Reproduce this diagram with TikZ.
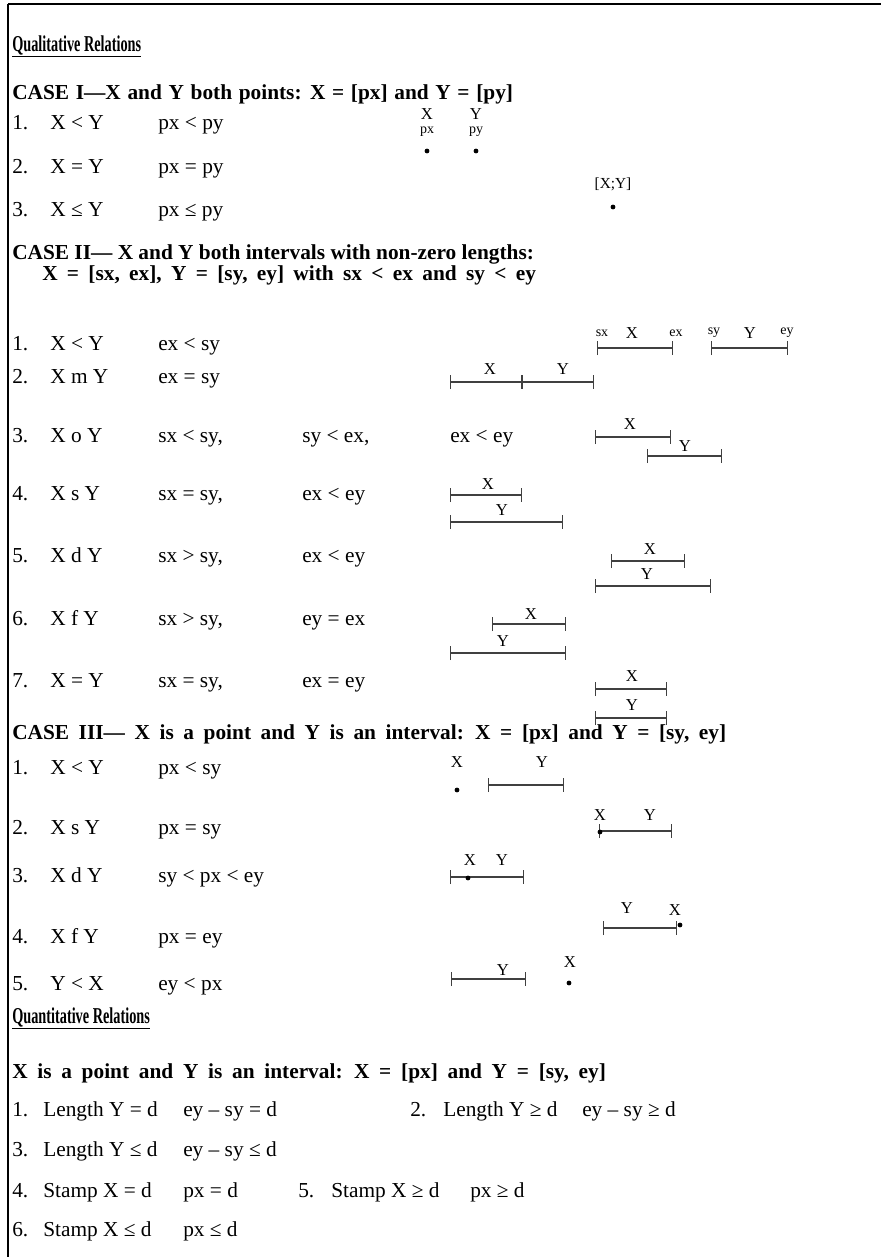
\documentclass[tikz,border=0pt]{standalone}
\usepackage{fontspec}
\setmainfont{Liberation Serif}
\newfontfamily\narrowfont[FakeStretch=0.63]{Liberation Serif}
\usetikzlibrary{arrows.meta}

\tikzset{
  every node/.style={inner sep=0pt},
  txt/.style={anchor=mid west, font=\fontsize{16}{19}\selectfont},
  head/.style={anchor=mid west, font=\fontsize{16}{19}\selectfont\bfseries},
  title/.style={anchor=mid west, font=\narrowfont\fontsize{17}{19}\selectfont\bfseries},
  lbl/.style={font=\fontsize{12.5}{14}\selectfont},
  sml/.style={font=\fontsize{10.5}{12}\selectfont},
  ivl/.style={draw=black!75, line width=0.8pt, {Bar[width=10.5pt]}-{Bar[width=10.5pt]}},
  pt/.style={circle, fill, inner sep=0pt, minimum size=3.6pt},
}

\begin{document}
\begin{tikzpicture}[x=0.75pt, y=-0.75pt]
\useasboundingbox (0,0) rectangle (881,1257);
\draw[line width=1.3pt] (881,4) -- (8,4);
\draw[line width=0.8pt] (8,4) -- (8,1257);

% qualitative
\node[title] (qual) at (12,48) {\underline{Qualitative Relations}};

% case I
\node[head] (c1) at (12,96) {\spaceskip=5pt CASE I—X and Y both points: X = [px] and Y = [py]};
\node[txt] (c1n1) at (12,126) {1.};
\node[txt] (c1a1) at (50,126) {X < Y};
\node[txt] (c1b1) at (158,126) {px < py};
\node[txt] (c1n2) at (12,170) {2.};
\node[txt] (c1a2) at (50,170) {X = Y};
\node[txt] (c1b2) at (158,170) {px = py};
\node[txt] (c1n3) at (12,213) {3.};
\node[txt] (c1a3) at (50,213) {X ≤ Y};
\node[txt] (c1b3) at (158,213) {px ≤ py};

\node[lbl] (i1x) at (427,114) {X};
\node[lbl] (i1y) at (476,114) {Y};
\node[sml] (i1px) at (427,132) {px};
\node[sml] (i1py) at (476,132) {py};
\node[pt] (i1p) at (427,151) {};
\node[pt] (i1q) at (476,151) {};
\node[font=\fontsize{11.5}{13}\selectfont] (i2xy) at (613,184) {[X;Y]};
\node[pt] (i2p) at (613,207) {};

% case II
\node[head] (c2) at (12,256) {CASE II— X and Y both intervals with non-zero lengths:};
\node[head] (c2b) at (42,277) {\spaceskip=7pt X = [sx, ex], Y = [sy, ey] with sx < ex and sy < ey};
\node[txt] (c2n1) at (12,347) {1.};
\node[txt] (c2a1) at (50,347) {X < Y};
\node[txt] (c2b1) at (158,347) {ex < sy};
\node[txt] (c2n2) at (12,380) {2.};
\node[txt] (c2a2) at (50,380) {X m Y};
\node[txt] (c2b2) at (158,380) {ex = sy};
\node[txt] (c2n3) at (12,439) {3.};
\node[txt] (c2a3) at (50,439) {X o Y};
\node[txt] (c2b3) at (158,439) {sx < sy,};
\node[txt] (c2c3) at (302,439) {sy < ex,};
\node[txt] (c2d3) at (450,439) {ex < ey};
\node[txt] (c2n4) at (12,497) {4.};
\node[txt] (c2a4) at (50,497) {X s Y};
\node[txt] (c2b4) at (158,497) {sx = sy,};
\node[txt] (c2c4) at (302,497) {ex < ey};
\node[txt] (c2n5) at (12,559) {5.};
\node[txt] (c2a5) at (50,559) {X d Y};
\node[txt] (c2b5) at (158,559) {sx > sy,};
\node[txt] (c2c5) at (302,559) {ex < ey};
\node[txt] (c2n6) at (12,622) {6.};
\node[txt] (c2a6) at (50,622) {X f Y};
\node[txt] (c2b6) at (158,622) {sx > sy,};
\node[txt] (c2c6) at (302,622) {ey = ex};
\node[txt] (c2n7) at (12,684) {7.};
\node[txt] (c2a7) at (50,684) {X = Y};
\node[txt] (c2b7) at (158,684) {sx = sy,};
\node[txt] (c2c7) at (302,684) {ex = ey};

% intervals X and Y
\coordinate (sx) at (597,348);
\coordinate (ex) at (673,348);
\coordinate (sy) at (711,348);
\coordinate (ey) at (788,348);
\draw[ivl] (sx) -- (ex);
\draw[ivl] (sy) -- (ey);
\node[sml] (lsx) at (602,333) {sx};
\node[lbl] (lx) at (632,333) {X};
\node[sml] (lex) at (676,333) {ex};
\node[sml] (lsy) at (714,333) {sy};
\node[lbl] (ly) at (750,333) {Y};
\node[sml] (ley) at (787,333) {ey};

% meets
\coordinate (m1) at (450,382);
\coordinate (m2) at (522,382);
\coordinate (m3) at (594,382);
\draw[ivl] (m1) -- (m2);
\draw[ivl] (m2) -- (m3);
\node[lbl] (mx) at (490,369) {X};
\node[lbl] (my) at (563,369) {Y};

% overlaps
\coordinate (o1) at (595,437);
\coordinate (o2) at (671,437);
\coordinate (o3) at (647,456);
\coordinate (o4) at (722,456);
\draw[ivl] (o1) -- (o2);
\draw[ivl] (o3) -- (o4);
\node[lbl] (ox) at (630,424) {X};
\node[lbl] (oy) at (685,446) {Y};

% starts
\coordinate (s1) at (450,495);
\coordinate (s2) at (522,495);
\coordinate (s3) at (450,522);
\coordinate (s4) at (563,522);
\draw[ivl] (s1) -- (s2);
\draw[ivl] (s3) -- (s4);
\node[lbl] (sxl) at (488,484) {X};
\node[lbl] (syl) at (502,510) {Y};

% during
\coordinate (d1) at (611,561);
\coordinate (d2) at (685,561);
\coordinate (d3) at (595,586);
\coordinate (d4) at (711,586);
\draw[ivl] (d1) -- (d2);
\draw[ivl] (d3) -- (d4);
\node[lbl] (dx) at (650,549) {X};
\node[lbl] (dy) at (647,574) {Y};

% finishes
\coordinate (f1) at (492,624);
\coordinate (f2) at (566,624);
\coordinate (f3) at (450,653);
\coordinate (f4) at (566,653);
\draw[ivl] (f1) -- (f2);
\draw[ivl] (f3) -- (f4);
\node[lbl] (fx) at (531,614) {X};
\node[lbl] (fy) at (503,641) {Y};

% equal
\coordinate (e1) at (595,689);
\coordinate (e2) at (667,689);
\coordinate (e3) at (595,718);
\coordinate (e4) at (667,718);
\draw[ivl] (e1) -- (e2);
\draw[ivl] (e3) -- (e4);
\node[lbl] (ex7) at (632,676) {X};
\node[lbl] (ey7) at (632,705) {Y};

% case III
\node[head] (c3) at (12,736) {\spaceskip=7.2pt CASE III— X is a point and Y is an interval: X = [px] and Y = [sy, ey]};
\node[txt] (c3n1) at (12,771) {1.};
\node[txt] (c3a1) at (50,771) {X < Y};
\node[txt] (c3b1) at (158,771) {px < sy};
\node[txt] (c3n2) at (12,831) {2.};
\node[txt] (c3a2) at (50,831) {X s Y};
\node[txt] (c3b2) at (158,831) {px = sy};
\node[txt] (c3n3) at (12,879) {3.};
\node[txt] (c3a3) at (50,879) {X d Y};
\node[txt] (c3b3) at (158,879) {sy < px < ey};
\node[txt] (c3n4) at (12,940) {4.};
\node[txt] (c3a4) at (50,940) {X f Y};
\node[txt] (c3b4) at (158,940) {px = ey};
\node[txt] (c3n5) at (12,987) {5.};
\node[txt] (c3a5) at (50,987) {Y < X};
\node[txt] (c3b5) at (158,987) {ey < px};

% point and interval
\node[lbl] (p1x) at (457,762) {X};
\node[pt] (p1p) at (457,790) {};
\coordinate (p1s) at (488,785);
\coordinate (p1e) at (564,785);
\draw[ivl] (p1s) -- (p1e);
\node[lbl] (p1y) at (542,762) {Y};

\coordinate (p2s) at (599,831);
\coordinate (p2e) at (672,831);
\draw[ivl] (p2s) -- (p2e);
\node[pt] (p2p) at (600,832) {};
\node[lbl] (p2x) at (600,815) {X};
\node[lbl] (p2y) at (650,815) {Y};

\coordinate (p3s) at (450,877);
\coordinate (p3e) at (524,877);
\draw[ivl] (p3s) -- (p3e);
\node[pt] (p3p) at (468,878) {};
\node[lbl] (p3x) at (470,860) {X};
\node[lbl] (p3y) at (502,860) {Y};

\coordinate (p4s) at (603,928);
\coordinate (p4e) at (677,928);
\draw[ivl] (p4s) -- (p4e);
\node[pt] (p4p) at (680,925) {};
\node[lbl] (p4y) at (627,908) {Y};
\node[lbl] (p4x) at (675,910) {X};

\coordinate (p5s) at (451,979);
\coordinate (p5e) at (526,979);
\draw[ivl] (p5s) -- (p5e);
\node[lbl] (p5y) at (503,970) {Y};
\node[lbl] (p5x) at (570,962) {X};
\node[pt] (p5p) at (569,983) {};

% quantitative
\node[title] (quan) at (12,1020) {\underline{Quantitative Relations}};
\node[head] (qh) at (12,1075) {\spaceskip=7.3pt X is a point and Y is an interval: X = [px] and Y = [sy, ey]};
\node[txt] (q1n) at (12,1113) {1.};
\node[txt] (q1a) at (43,1113) {Length Y = d};
\node[txt] (q1b) at (183,1113) {ey – sy = d};
\node[txt] (q2n) at (410,1113) {2.};
\node[txt] (q2a) at (443,1113) {Length Y ≥ d};
\node[txt] (q2b) at (582,1113) {ey – sy ≥ d};
\node[txt] (q3n) at (12,1153) {3.};
\node[txt] (q3a) at (43,1153) {Length Y ≤ d};
\node[txt] (q3b) at (183,1153) {ey – sy ≤ d};
\node[txt] (q4n) at (12,1194) {4.};
\node[txt] (q4a) at (43,1194) {Stamp X = d};
\node[txt] (q4b) at (183,1194) {px = d};
\node[txt] (q5n) at (298,1194) {5.};
\node[txt] (q5a) at (331,1194) {Stamp X ≥ d};
\node[txt] (q5b) at (470,1194) {px ≥ d};
\node[txt] (q6n) at (12,1233) {6.};
\node[txt] (q6a) at (43,1233) {Stamp X ≤ d};
\node[txt] (q6b) at (183,1233) {px ≤ d};
\end{tikzpicture}
\end{document}
